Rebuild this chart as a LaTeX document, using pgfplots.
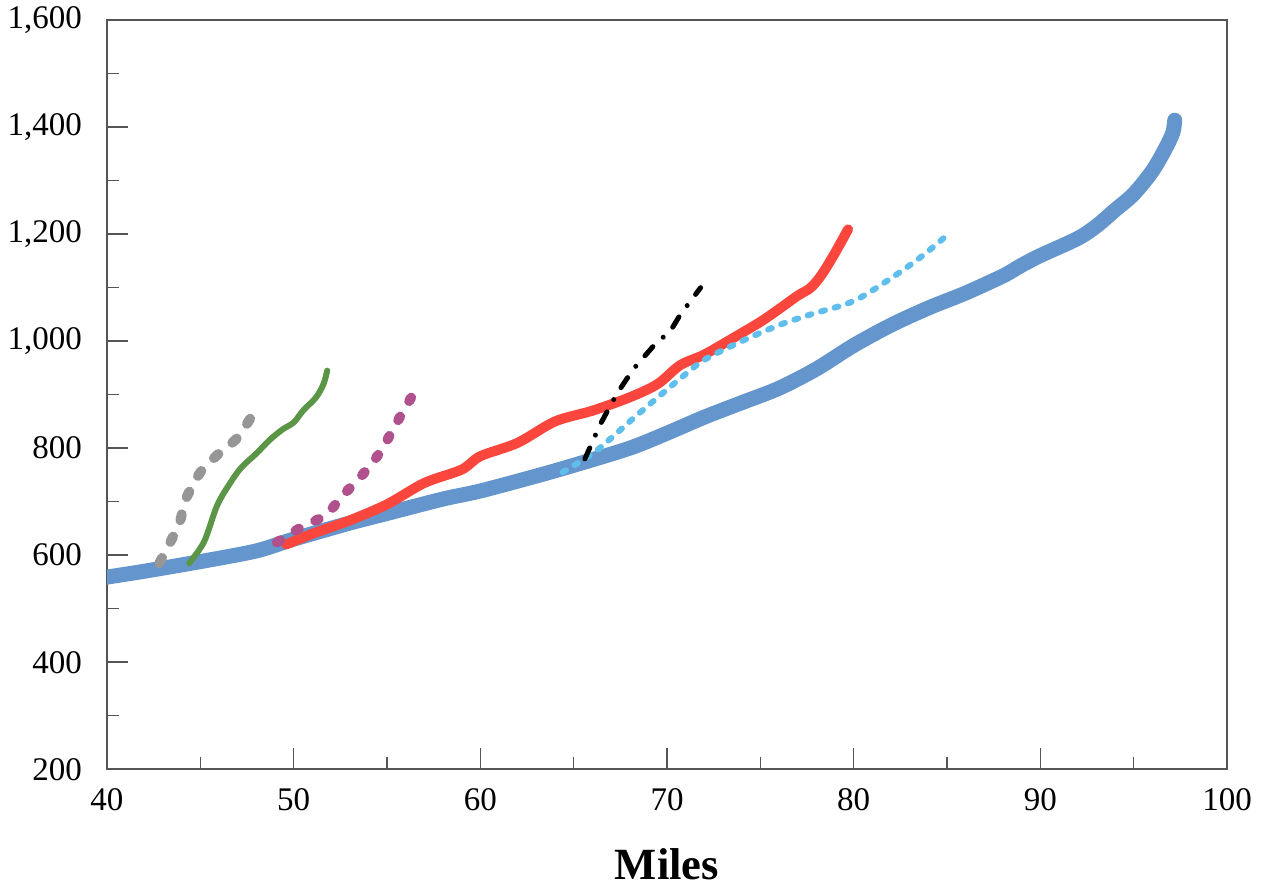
\documentclass[border=0pt]{standalone}
\usepackage{pgfplots}
\pgfplotsset{compat=1.18}
\usepackage{fontspec}
\setmainfont{Liberation Serif}
\definecolor{cblue}{RGB}{100,150,205}
\definecolor{cred}{RGB}{250,70,60}
\definecolor{cgreen}{RGB}{90,150,70}
\definecolor{cgray}{RGB}{150,150,150}
\definecolor{cmag}{RGB}{176,80,140}
\definecolor{clblue}{RGB}{95,190,235}
\definecolor{caxis}{RGB}{85,85,85}
\begin{document}
\begin{tikzpicture}
\begin{axis}[
  scale only axis, width=560pt, height=374.5pt,
  xmin=40, xmax=100, ymin=200, ymax=1600,
  xtick={40,50,...,100}, ytick={200,400,...,1600},
  minor xtick={45,55,...,95}, minor ytick={300,500,...,1500},
  xtick pos=bottom, ytick pos=left,
  tick align=inside,
  major tick length=10.5pt, minor tick length=6pt,
  every tick/.style={caxis, line width=0.8pt},
  axis line style={caxis, line width=1.2pt},
  /pgf/number format/assume math mode=true,
  /pgf/number format/1000 sep={,},
  ticklabel style={font=\fontsize{16.5}{18}\selectfont},
  xticklabel style={yshift=-6pt},
  yticklabel style={xshift=-9pt},
  xlabel={\textbf{Miles}},
  xlabel style={font=\fontsize{22.3}{26}\selectfont, yshift=-12pt},
  clip=true,
]
% blue thick
\addplot[cblue, line width=7.5pt, line cap=round, line join=round, smooth] coordinates {
(39,553)(40,559)(42,570)(45,588)(48,608)(50,630)(53,660)(55,678)(58,705)(60,720)(63,748)(65,768)(68,800)(70,828)(72,858)(74,885)(76,912)(78,948)(80,992)(82,1030)(84,1062)(86,1090)(88,1122)(89,1142)(90,1160)(92,1192)(93,1215)(94,1245)(95,1275)(96,1318)(96.7,1360)(97.1,1390)(97.2,1413)};
% red
\addplot[cred, line width=5pt, line cap=round, line join=round, smooth] coordinates {
(49.6,620)(51,640)(53,665)(55,695)(57,735)(59,760)(60,785)(62,810)(64,850)(66,870)(68,895)(69.5,920)(70.7,955)(72,975)(73.5,1005)(75,1036)(76,1060)(77,1085)(77.7,1100)(78.3,1125)(79,1165)(79.7,1209)};
% light blue dotted
\addplot[clblue, line width=3pt, line cap=round, dash pattern=on 2pt off 5pt, smooth] coordinates {
(64.4,755)(66.2,795)(68.5,865)(70.7,930)(72,965)(74,1000)(76,1030)(77.7,1050)(80,1075)(82.1,1120)(83.7,1160)(85.2,1204)};
% black dash-dot
\addplot[black, line width=2.5pt, line cap=round, dash pattern=on 6pt off 7pt on 0pt off 7pt] coordinates {
(65.6,780)(66.4,843)(67.3,901)(68.2,948)(69.3,992)(70.2,1020)(70.7,1049)(71.8,1100)};
% green
\addplot[cgreen, line width=3pt, line cap=round, line join=round, smooth] coordinates {
(44.4,585)(45.2,625)(45.9,693)(46.6,735)(47.2,764)(48,790)(48.7,815)(49.4,835)(50,848)(50.5,870)(51.2,895)(51.6,920)(51.8,945)};
% gray dots
\addplot[cgray, line width=5pt, line cap=round, dash pattern=on 3pt off 9pt, smooth] coordinates {
(42.8,585)(43.4,625)(43.9,662)(44.2,703)(45,755)(45.9,787)(47,820)(47.8,863)};
% magenta dots
\addplot[cmag, line width=5pt, line cap=round, dash pattern=on 2pt off 9pt, smooth] coordinates {
(49.1,624)(50.4,652)(51.7,675)(52.7,714)(53.8,755)(54.7,796)(55.3,834)(56,877)(56.7,918)(56.8,922)};
\end{axis}
\path (current axis.south west) ++(-53.5pt,-56.5pt) coordinate (bbsw);
\path (current axis.north east) ++(21pt,9pt) coordinate (bbne);
\useasboundingbox (bbsw) rectangle (bbne);
\end{tikzpicture}
\end{document}
